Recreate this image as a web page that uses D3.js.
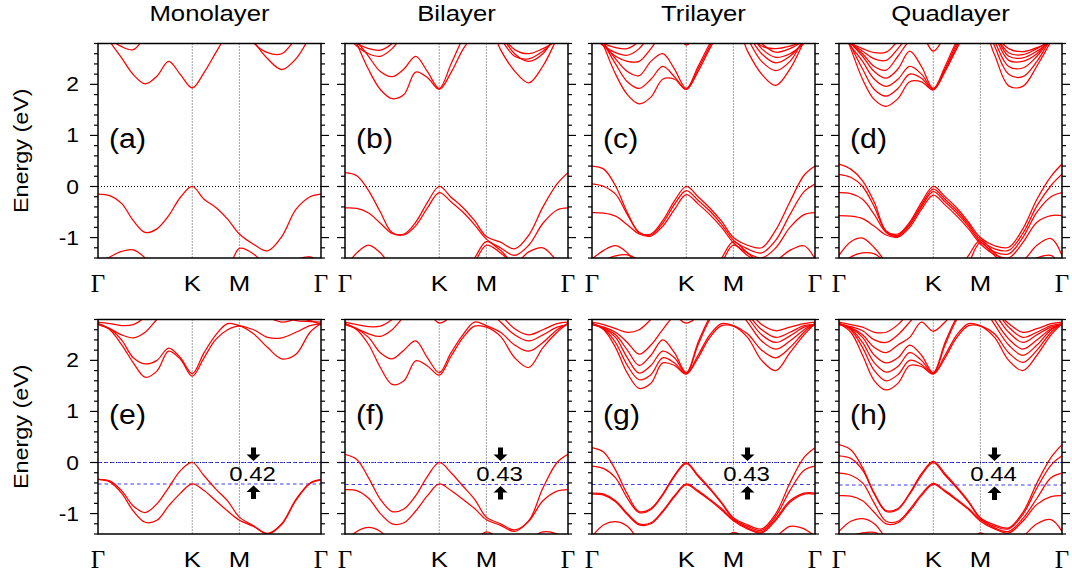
<!DOCTYPE html>
<html>
<head>
<meta charset="utf-8">
<script src="https://cdn.jsdelivr.net/npm/d3@7"></script>
<style>
  body { margin: 0; background: #fff; }
  text { font-family: "Liberation Sans", Arial, sans-serif; fill: #000; }
</style>
</head>
<body>
<svg id="chart" width="1072" height="574"></svg>
<script>
// k-path sampling: Γ=0, K=1, M=1.5, Γ=2.366 (|ΓK| = 1)
const kPoints = [0, .125, .25, .375, .5, .625, .75, .875, 1, 1.125, 1.25, 1.375, 1.5, 1.65, 1.8, 1.95, 2.1, 2.25, 2.366];
const kTicks = [0, 1, 1.5, 2.366];
const kTickLabels = ['Γ', 'K', 'M', 'Γ'];
const yTicks = [-1, 0, 1, 2];
const titles = ['Monolayer', 'Bilayer', 'Trilayer', 'Quadlayer'];
const tagsTop = ['(a)', '(b)', '(c)', '(d)'];
const tagsBottom = ['(e)', '(f)', '(g)', '(h)'];
const gaps = [0.42, 0.43, 0.43, 0.44];

// top row: (a)-(d)
const bandsA = [
  [-0.15, -0.18, -0.33, -0.67, -0.9, -0.83, -0.57, -0.21, 0, -0.25, -0.41, -0.64, -0.93, -1.13, -1.26, -0.98, -0.45, -0.2, -0.15],
  [-1.5, -1.38, -1.27, -1.24, -1.4, -1.7, -2.0, -2.2, -2.3, -2.2, -2.0, -1.7, -1.21, -1.32, -1.6, -1.75, -1.45, -1.38, -1.5],
  [3.4, 2.85, 2.52, 2.19, 2.01, 2.16, 2.45, 2.19, 1.93, 2.23, 2.62, 3.0, 3.3, 2.85, 2.5, 2.29, 2.5, 2.95, 3.4],
  [3.3, 2.9, 2.74, 2.68, 2.95, 3.3, 3.5, 3.5, 3.5, 3.5, 3.5, 3.5, 3.5, 2.82, 2.62, 2.6, 2.9, 3.2, 3.3]
];
const bandsB = [
  [0.27, 0.21, -0.08, -0.5, -0.9, -0.93, -0.7, -0.31, 0, -0.21, -0.41, -0.67, -0.98, -1.09, -1.22, -0.95, -0.4, 0.05, 0.27],
  [-0.42, -0.43, -0.52, -0.72, -0.92, -0.95, -0.77, -0.42, -0.12, -0.3, -0.5, -0.75, -1.03, -1.2, -1.35, -1.15, -0.72, -0.46, -0.42],
  [-1.6, -1.3, -1.15, -1.3, -1.6, -1.9, -2.1, -2.2, -2.2, -2.0, -1.7, -1.4, -1.08, -1.25, -1.5, -1.28, -1.2, -1.45, -1.6],
  [-2.2, -2.2, -2.2, -2.2, -2.2, -2.2, -2.2, -2.2, -2.2, -2.1, -1.9, -1.5, -1.15, -1.3, -1.55, -1.8, -2.0, -2.2, -2.2],
  [3.3, 2.8, 2.29, 1.9, 1.72, 1.8, 2.24, 2.13, 1.9, 2.23, 2.68, 3.0, 3.3, 2.68, 2.26, 2.03, 2.36, 2.9, 3.3],
  [3.2, 2.85, 2.55, 2.25, 2.15, 2.3, 2.55, 2.25, 1.92, 2.4, 2.9, 3.3, 3.5, 3.0, 2.6, 2.45, 2.6, 3.0, 3.2],
  [3.0, 2.75, 2.6, 2.55, 2.7, 3.0, 3.3, 3.3, 3.3, 3.3, 3.3, 3.3, 3.3, 2.9, 2.55, 2.5, 2.65, 2.9, 3.0],
  [2.95, 2.8, 2.7, 2.67, 2.8, 3.1, 3.4, 3.4, 3.4, 3.4, 3.4, 3.4, 3.4, 3.0, 2.68, 2.6, 2.7, 2.85, 2.95]
];
const bandsC = [
  [0.4, 0.34, 0.01, -0.51, -0.9, -0.93, -0.67, -0.28, 0, -0.2, -0.42, -0.68, -1.0, -1.15, -1.2, -0.85, -0.3, 0.22, 0.4],
  [0.05, 0.0, -0.15, -0.55, -0.9, -0.95, -0.72, -0.35, -0.08, -0.27, -0.48, -0.74, -1.05, -1.22, -1.3, -1.05, -0.55, -0.1, 0.05],
  [-0.51, -0.52, -0.58, -0.75, -0.93, -0.97, -0.78, -0.45, -0.16, -0.34, -0.55, -0.8, -1.1, -1.3, -1.4, -1.2, -0.8, -0.55, -0.51],
  [-1.42, -1.25, -1.16, -1.3, -1.6, -1.9, -2.1, -2.2, -2.2, -2.0, -1.7, -1.4, -1.08, -1.3, -1.5, -1.45, -1.25, -1.16, -1.42],
  [-1.6, -1.45, -1.36, -1.34, -1.45, -1.7, -2.0, -2.2, -2.2, -2.1, -1.85, -1.5, -1.15, -1.35, -1.5, -1.7, -1.8, -1.7, -1.6],
  [3.3, 2.75, 2.2, 1.8, 1.62, 1.75, 2.1, 2.1, 1.9, 2.25, 2.7, 3.1, 3.3, 2.65, 2.2, 1.98, 2.3, 2.85, 3.3],
  [3.2, 2.8, 2.4, 2.05, 1.92, 2.1, 2.35, 2.15, 1.9, 2.3, 2.75, 3.2, 3.4, 2.9, 2.45, 2.27, 2.45, 2.9, 3.2],
  [3.1, 2.8, 2.5, 2.25, 2.17, 2.45, 2.6, 2.3, 1.92, 2.35, 2.8, 3.2, 3.4, 3.0, 2.6, 2.42, 2.55, 2.85, 3.1],
  [3.0, 2.75, 2.55, 2.45, 2.45, 2.7, 3.0, 3.1, 2.77, 3.0, 3.3, 3.4, 3.4, 3.1, 2.7, 2.53, 2.6, 2.8, 3.0],
  [2.95, 2.75, 2.62, 2.57, 2.7, 3.0, 3.3, 3.4, 3.4, 3.4, 3.4, 3.4, 3.4, 3.1, 2.8, 2.63, 2.7, 2.85, 2.95],
  [2.9, 2.8, 2.72, 2.7, 2.85, 3.2, 3.4, 3.4, 3.4, 3.4, 3.4, 3.4, 3.4, 3.0, 2.75, 2.7, 2.75, 2.85, 2.9]
];
const bandsD = [
  [0.44, 0.34, 0.11, -0.31, -0.87, -0.93, -0.7, -0.31, 0, -0.2, -0.42, -0.7, -1.0, -1.16, -1.19, -0.83, -0.25, 0.2, 0.44],
  [0.24, 0.18, 0.0, -0.4, -0.88, -0.95, -0.73, -0.36, -0.05, -0.25, -0.47, -0.74, -1.04, -1.22, -1.25, -0.92, -0.38, 0.02, 0.24],
  [-0.12, -0.14, -0.25, -0.55, -0.9, -0.97, -0.76, -0.4, -0.1, -0.3, -0.52, -0.78, -1.08, -1.28, -1.32, -1.0, -0.5, -0.2, -0.12],
  [-0.57, -0.58, -0.63, -0.78, -0.95, -0.99, -0.8, -0.45, -0.17, -0.36, -0.58, -0.83, -1.12, -1.33, -1.4, -1.1, -0.7, -0.57, -0.57],
  [-1.35, -1.08, -1.01, -1.2, -1.5, -1.9, -2.1, -2.2, -2.2, -2.0, -1.7, -1.35, -1.05, -1.3, -1.5, -1.45, -1.15, -1.02, -1.35],
  [-1.6, -1.38, -1.3, -1.32, -1.5, -1.8, -2.0, -2.2, -2.2, -2.1, -1.85, -1.5, -1.1, -1.35, -1.55, -1.55, -1.4, -1.35, -1.6],
  [3.3, 2.7, 2.1, 1.7, 1.57, 1.72, 2.05, 2.05, 1.89, 2.25, 2.7, 3.1, 3.2, 2.58, 1.97, 1.96, 2.36, 2.85, 3.3],
  [3.2, 2.75, 2.3, 1.9, 1.77, 1.92, 2.2, 2.12, 1.9, 2.28, 2.75, 3.2, 3.4, 2.75, 2.2, 2.15, 2.45, 2.9, 3.2],
  [3.1, 2.75, 2.45, 2.1, 1.96, 2.1, 2.35, 2.2, 1.91, 2.3, 2.8, 3.2, 3.4, 2.85, 2.35, 2.32, 2.55, 2.9, 3.1],
  [3.0, 2.8, 2.55, 2.25, 2.12, 2.3, 2.65, 2.35, 1.92, 2.35, 2.85, 3.2, 3.4, 2.95, 2.47, 2.45, 2.6, 2.9, 3.0],
  [2.95, 2.8, 2.6, 2.35, 2.28, 2.55, 2.85, 2.95, 2.65, 2.95, 3.3, 3.4, 3.4, 3.0, 2.55, 2.52, 2.65, 2.85, 2.95],
  [2.9, 2.8, 2.65, 2.5, 2.47, 2.7, 3.0, 3.3, 3.4, 3.4, 3.4, 3.4, 3.4, 3.0, 2.62, 2.58, 2.7, 2.85, 2.9],
  [2.88, 2.8, 2.7, 2.62, 2.63, 2.85, 3.1, 3.3, 3.4, 3.4, 3.4, 3.4, 3.4, 3.0, 2.7, 2.64, 2.72, 2.83, 2.88]
];

// bottom row: (e)-(h)
const bandsE = [
  [-0.33, -0.36, -0.55, -0.85, -0.98, -0.81, -0.49, -0.16, 0, -0.26, -0.52, -0.75, -1.07, -1.24, -1.39, -1.2, -0.72, -0.4, -0.33],
  [-0.33, -0.38, -0.6, -0.95, -1.17, -1.13, -0.85, -0.6, -0.42, -0.55, -0.75, -0.95, -1.13, -1.25, -1.4, -1.21, -0.74, -0.41, -0.34],
  [2.72, 2.6, 2.31, 1.95, 1.67, 1.79, 2.18, 2.02, 1.69, 2.05, 2.41, 2.6, 2.67, 2.52, 2.25, 2.03, 2.12, 2.55, 2.72],
  [2.72, 2.62, 2.4, 2.05, 1.93, 2.0, 2.24, 2.05, 1.74, 2.15, 2.5, 2.72, 2.68, 2.6, 2.45, 2.44, 2.55, 2.68, 2.72],
  [2.7, 2.62, 2.5, 2.44, 2.55, 2.8, 3.0, 3.0, 2.95, 3.0, 3.1, 3.1, 3.1, 3.0, 2.85, 2.75, 2.8, 2.78, 2.7],
  [2.75, 2.72, 2.68, 2.7, 2.85, 3.1, 3.2, 3.2, 3.2, 3.2, 3.2, 3.2, 3.2, 3.1, 2.95, 2.85, 2.78, 2.76, 2.75]
];
const bandsF = [
  [0.16, 0.06, -0.3, -0.72, -0.96, -0.91, -0.65, -0.27, 0, -0.2, -0.46, -0.72, -1.07, -1.2, -1.32, -1.14, -0.5, 0.0, 0.16],
  [-0.53, -0.55, -0.7, -1.0, -1.2, -1.18, -0.95, -0.65, -0.42, -0.55, -0.72, -0.9, -1.12, -1.23, -1.35, -1.15, -0.75, -0.56, -0.53],
  [-1.55, -1.35, -1.27, -1.35, -1.6, -1.9, -2.1, -2.2, -2.2, -2.0, -1.8, -1.55, -1.36, -1.5, -1.6, -1.5, -1.36, -1.4, -1.55],
  [2.72, 2.6, 2.31, 1.86, 1.53, 1.6, 1.99, 1.89, 1.71, 2.08, 2.44, 2.67, 2.65, 2.47, 2.05, 1.86, 2.25, 2.55, 2.72],
  [2.72, 2.62, 2.45, 2.15, 2.03, 2.2, 2.38, 2.05, 1.76, 2.15, 2.5, 2.75, 2.68, 2.55, 2.3, 2.18, 2.35, 2.6, 2.72],
  [2.7, 2.62, 2.52, 2.47, 2.6, 2.85, 3.0, 2.95, 2.73, 2.85, 3.0, 3.0, 3.0, 2.75, 2.5, 2.38, 2.5, 2.65, 2.7],
  [2.75, 2.7, 2.66, 2.67, 2.8, 3.0, 3.2, 3.2, 3.2, 3.2, 3.2, 3.2, 3.2, 2.9, 2.62, 2.5, 2.6, 2.72, 2.75]
];
const bandsG = [
  [0.29, 0.2, -0.15, -0.62, -0.96, -0.9, -0.62, -0.25, 0, -0.25, -0.5, -0.78, -1.08, -1.22, -1.3, -1.0, -0.4, 0.1, 0.29],
  [-0.07, -0.12, -0.3, -0.7, -0.98, -0.92, -0.64, -0.27, -0.02, -0.27, -0.52, -0.8, -1.1, -1.25, -1.33, -1.05, -0.55, -0.15, -0.07],
  [-0.6, -0.62, -0.75, -1.0, -1.2, -1.18, -0.95, -0.65, -0.42, -0.55, -0.72, -0.9, -1.12, -1.28, -1.36, -1.1, -0.75, -0.6, -0.6],
  [-0.62, -0.64, -0.77, -1.02, -1.22, -1.2, -0.97, -0.67, -0.44, -0.57, -0.74, -0.93, -1.14, -1.3, -1.38, -1.13, -0.78, -0.62, -0.62],
  [-1.45, -1.22, -1.16, -1.25, -1.55, -1.9, -2.1, -2.2, -2.2, -2.0, -1.8, -1.55, -1.37, -1.5, -1.55, -1.45, -1.25, -1.3, -1.45],
  [2.72, 2.6, 2.25, 1.75, 1.45, 1.55, 1.95, 1.9, 1.73, 2.05, 2.45, 2.68, 2.67, 2.45, 2.0, 1.8, 2.15, 2.5, 2.72],
  [2.72, 2.62, 2.35, 1.9, 1.62, 1.72, 2.05, 1.95, 1.74, 2.1, 2.5, 2.72, 2.68, 2.52, 2.2, 2.05, 2.25, 2.55, 2.72],
  [2.72, 2.63, 2.45, 2.05, 1.75, 1.9, 2.18, 2.05, 1.75, 2.3, 2.8, 3.1, 3.1, 2.75, 2.38, 2.22, 2.38, 2.6, 2.72],
  [2.7, 2.63, 2.5, 2.2, 1.9, 2.1, 2.4, 2.15, 1.76, 2.35, 2.85, 3.2, 3.2, 2.85, 2.5, 2.35, 2.48, 2.65, 2.7],
  [2.7, 2.65, 2.55, 2.35, 2.12, 2.3, 2.6, 2.85, 2.73, 2.85, 3.0, 3.1, 3.1, 2.9, 2.6, 2.45, 2.55, 2.68, 2.7],
  [2.75, 2.7, 2.62, 2.55, 2.6, 2.8, 3.0, 3.2, 3.2, 3.2, 3.2, 3.2, 3.2, 3.0, 2.7, 2.58, 2.65, 2.72, 2.75]
];
const bandsH = [
  [0.35, 0.25, -0.1, -0.6, -0.94, -0.9, -0.6, -0.22, 0.02, -0.22, -0.48, -0.76, -1.08, -1.22, -1.28, -0.98, -0.4, 0.1, 0.35],
  [0.13, 0.08, -0.15, -0.62, -0.96, -0.92, -0.62, -0.25, 0.0, -0.25, -0.5, -0.78, -1.1, -1.25, -1.3, -1.02, -0.5, -0.05, 0.13],
  [-0.21, -0.25, -0.4, -0.8, -1.15, -1.15, -0.92, -0.62, -0.41, -0.55, -0.72, -0.9, -1.12, -1.28, -1.35, -1.1, -0.7, -0.3, -0.21],
  [-0.65, -0.66, -0.75, -0.98, -1.2, -1.18, -0.95, -0.65, -0.43, -0.57, -0.74, -0.92, -1.15, -1.3, -1.38, -1.15, -0.82, -0.67, -0.65],
  [-1.35, -1.15, -1.1, -1.2, -1.5, -1.85, -2.1, -2.2, -2.2, -2.0, -1.8, -1.6, -1.38, -1.55, -1.6, -1.45, -1.2, -1.12, -1.35],
  [-1.6, -1.45, -1.38, -1.37, -1.5, -1.8, -2.0, -2.2, -2.2, -2.2, -2.0, -1.8, -1.6, -1.7, -1.6, -1.45, -1.42, -1.5, -1.6],
  [2.72, 2.55, 2.1, 1.6, 1.42, 1.55, 1.9, 1.88, 1.73, 2.05, 2.45, 2.68, 2.67, 2.45, 2.0, 1.8, 2.1, 2.5, 2.72],
  [2.72, 2.6, 2.25, 1.8, 1.6, 1.72, 2.0, 1.92, 1.74, 2.1, 2.5, 2.72, 2.68, 2.52, 2.15, 1.96, 2.2, 2.55, 2.72],
  [2.72, 2.62, 2.35, 1.95, 1.77, 1.88, 2.15, 2.0, 1.75, 2.3, 2.8, 3.1, 3.1, 2.7, 2.3, 2.1, 2.3, 2.6, 2.72],
  [2.7, 2.63, 2.45, 2.1, 1.95, 2.05, 2.3, 2.1, 1.76, 2.35, 2.85, 3.2, 3.2, 2.8, 2.42, 2.22, 2.4, 2.62, 2.7],
  [2.7, 2.64, 2.5, 2.25, 2.15, 2.3, 2.45, 2.75, 2.57, 2.75, 3.0, 3.1, 3.1, 2.9, 2.55, 2.35, 2.5, 2.65, 2.7],
  [2.72, 2.66, 2.58, 2.4, 2.35, 2.5, 2.75, 3.0, 3.0, 3.1, 3.2, 3.2, 3.2, 3.0, 2.65, 2.45, 2.55, 2.68, 2.72],
  [2.75, 2.7, 2.65, 2.55, 2.55, 2.7, 2.95, 3.2, 3.2, 3.2, 3.2, 3.2, 3.2, 3.0, 2.72, 2.55, 2.62, 2.72, 2.75]
];

const topBands = [bandsA, bandsB, bandsC, bandsD];
const bottomBands = [bandsE, bandsF, bandsG, bandsH];

// layout
const panelLefts = [98, 345, 592, 839];
const panelW = 223;
const rowTops = [43.5, 319.5];
const panelH = 214.5;
const stretch = 1.17; // the original lettering is a bit wider than Arial

const svg = d3.select('#chart');

// upright text, widened a little to match the original lettering
function label(sel, x, y, str, size, anchor, sx) {
  return sel.append('text')
    .attr('transform', `translate(${x},${y}) scale(${sx},1)`)
    .attr('text-anchor', anchor)
    .attr('font-size', size)
    .text(str);
}

function drawPanel(row, col) {
  const left = panelLefts[col];
  const top = rowTops[row];
  const bands = row === 0 ? topBands[col] : bottomBands[col];

  const x = d3.scaleLinear().domain([0, 2.366]).range([left, left + panelW]);
  const y = d3.scaleLinear().domain([-1.4, 2.8]).range([top + panelH, top]);

  const g = svg.append('g');
  const clipId = 'clip' + row + col;
  g.append('clipPath').attr('id', clipId)
    .append('rect')
    .attr('x', left).attr('y', top)
    .attr('width', panelW).attr('height', panelH);

  // dotted guides at K and M, and at E = 0
  g.selectAll('line.kline')
    .data([1, 1.5])
    .join('line')
    .attr('x1', d => x(d)).attr('x2', d => x(d))
    .attr('y1', top).attr('y2', top + panelH)
    .attr('stroke', '#444').attr('stroke-width', 1)
    .attr('stroke-dasharray', '1,2');

  g.append('line')
    .attr('x1', left).attr('x2', left + panelW)
    .attr('y1', y(0)).attr('y2', y(0))
    .attr('stroke', '#000').attr('stroke-width', 1)
    .attr('stroke-dasharray', '1,2');

  if (row === 1) {
    // blue dashed marks at the band edges
    g.selectAll('line.gap')
      .data([0, -gaps[col]])
      .join('line')
      .attr('x1', left).attr('x2', left + panelW)
      .attr('y1', d => y(d)).attr('y2', d => y(d))
      .attr('stroke', '#3b3bff').attr('stroke-width', 1.1)
      .attr('stroke-dasharray', '3.5,3');
  }

  const line = d3.line()
    .x((d, i) => x(kPoints[i]))
    .y(d => y(d))
    .curve(d3.curveCatmullRom.alpha(0.5));

  g.append('g')
    .attr('clip-path', 'url(#' + clipId + ')')
    .selectAll('path')
    .data(bands)
    .join('path')
    .attr('d', line)
    .attr('fill', 'none')
    .attr('stroke', '#ff0000')
    .attr('stroke-width', 1.25);

  // frame
  g.append('rect')
    .attr('x', left).attr('y', top)
    .attr('width', panelW).attr('height', panelH)
    .attr('fill', 'none').attr('stroke', '#000').attr('stroke-width', 1.5);

  // y ticks on both sides, pointing outward
  const minor = d3.range(-1.4, 2.81, 0.2).map(v => Math.round(v * 10) / 10);
  const tickData = minor.map(v => ({ v, major: Math.abs(v - Math.round(v)) < 1e-6 }));
  [left, left + panelW].forEach((xe, side) => {
    const dir = side === 0 ? -1 : 1;
    g.selectAll(null)
      .data(tickData)
      .join('line')
      .attr('x1', xe).attr('x2', d => xe + dir * (d.major ? 8 : 4))
      .attr('y1', d => y(d.v)).attr('y2', d => y(d.v))
      .attr('stroke', '#000').attr('stroke-width', 1.2);
  });

  if (col === 0) {
    yTicks.forEach(v => label(g, left - 19, y(v) + 7, v, 19.5, 'end', stretch));
    g.append('text')
      .attr('transform', `translate(28,${top + panelH / 2}) rotate(-90) scale(1.2,1)`)
      .attr('text-anchor', 'middle')
      .attr('font-size', 19.5)
      .text('Energy (eV)');
  }

  // k-point labels
  kTicks.forEach((k, i) => {
    const t = kTickLabels[i];
    if (t === 'Γ') {
      label(g, x(k), top + panelH + 34, t, 25, 'middle', 1)
        .style('font-family', '"Liberation Serif", "Times New Roman", serif');
    } else {
      label(g, x(k), top + panelH + 32.5, t, 22, 'middle', stretch);
    }
  });

  // panel tag
  label(g, left + 11, top + 104, row === 0 ? tagsTop[col] : tagsBottom[col], 27, 'start', 1.12);

  if (row === 0) {
    label(g, left + panelW / 2, 21, titles[col], 22, 'middle', stretch);
  } else {
    // gap annotation with arrows
    const ax = x(1.65);
    const y0 = y(0), y1 = y(-gaps[col]);
    const down = `M${ax - 2.5},${y0 - 15} L${ax + 2.5},${y0 - 15} L${ax + 2.5},${y0 - 8} L${ax + 7},${y0 - 8} L${ax},${y0 - 1.5} L${ax - 7},${y0 - 8} L${ax - 2.5},${y0 - 8} Z`;
    const up = `M${ax - 2.5},${y1 + 15} L${ax + 2.5},${y1 + 15} L${ax + 2.5},${y1 + 8} L${ax + 7},${y1 + 8} L${ax},${y1 + 1.5} L${ax - 7},${y1 + 8} L${ax - 2.5},${y1 + 8} Z`;
    g.append('path').attr('d', down).attr('fill', '#000');
    g.append('path').attr('d', up).attr('fill', '#000');
    label(g, ax - 1, y(-gaps[col] / 2) + 7.5, gaps[col].toFixed(2), 20.5, 'middle', stretch);
  }
}

for (let r = 0; r < 2; r++) {
  for (let c = 0; c < 4; c++) drawPanel(r, c);
}
</script>
</body>
</html>
